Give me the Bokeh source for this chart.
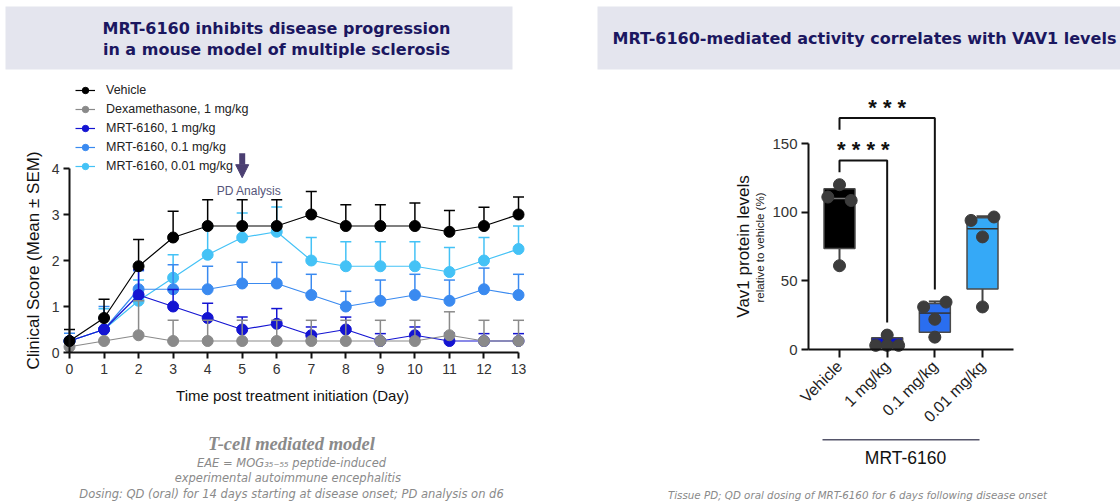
import math
from bokeh.plotting import figure
from bokeh.models import (Label, BoxAnnotation, Legend, LegendItem, FixedTicker,
                          LinearAxis, Range1d, Arrow, NormalHead)
from bokeh.embed import file_html
from bokeh.resources import INLINE

# ---------------- data: left chart (clinical score, mean + SEM) ----------------
days = list(range(14))
series_names = ["Vehicle", "Dexamethasone, 1 mg/kg", "MRT-6160, 1 mg/kg",
                "MRT-6160, 0.1 mg/kg", "MRT-6160, 0.01 mg/kg"]
vehicle_mean = [0.25, 0.75, 1.875, 2.5, 2.75, 2.75, 2.75, 3.0, 2.75, 2.75, 2.75, 2.625, 2.75, 3.0]
vehicle_sem = [0.25, 0.41, 0.58, 0.57, 0.57, 0.57, 0.57, 0.5, 0.46, 0.46, 0.5, 0.46, 0.41, 0.38]
dex_mean = [0.125, 0.25, 0.375, 0.25, 0.25, 0.25, 0.25, 0.25, 0.25, 0.25, 0.25, 0.375, 0.25, 0.25]
dex_sem = [0.0, 0.0, 0.75, 0.45, 0.45, 0.45, 0.45, 0.45, 0.45, 0.45, 0.45, 0.51, 0.45, 0.45]
mrt1_mean = [0.25, 0.5, 1.25, 1.0, 0.75, 0.5, 0.625, 0.375, 0.5, 0.25, 0.375, 0.25, 0.25, 0.25]
mrt1_sem = [0.0, 0.25, 0.55, 0.37, 0.32, 0.27, 0.33, 0.18, 0.27, 0.16, 0.18, 0.17, 0.16, 0.16]
mrt01_mean = [0.25, 0.5, 1.375, 1.375, 1.375, 1.5, 1.5, 1.25, 1.0, 1.125, 1.25, 1.125, 1.375, 1.25]
mrt01_sem = [0.17, 0.5, 0.4, 0.53, 0.5, 0.46, 0.46, 0.45, 0.33, 0.45, 0.45, 0.45, 0.46, 0.45]
mrt001_mean = [0.25, 0.5, 1.125, 1.625, 2.125, 2.5, 2.625, 2.0, 1.875, 1.875, 1.875, 1.75, 2.0, 2.25]
mrt001_sem = [0.0, 0.45, 0.45, 0.5, 0.58, 0.53, 0.54, 0.5, 0.53, 0.53, 0.53, 0.53, 0.5, 0.5]
series_colors = ["#000000", "#8a8a8a", "#1414d2", "#3a8af0", "#44c2f6"]
y_ticks_left = [0, 1, 2, 3, 4]
pd_day = 5

# ---------------- data: right chart (Vav1 protein levels, box plots) ----------------
groups = ["Vehicle", "1 mg/kg", "0.1 mg/kg", "0.01 mg/kg"]
box_min = [61, 1.7, 9, 31]
box_q1 = [73.5, 1.7, 12.5, 44]
box_median = [110, 3.5, 26.5, 88]
box_q3 = [117, 8.5, 33.5, 96]
box_max = [120, 10.5, 35, 97]
group_points = [[120, 111, 108.5, 61], [10.5, 3, 3, 3], [31, 34.5, 22, 9], [94, 96.5, 82, 31]]
point_offsets = [[0, -0.245, 0.245, 0], [0, -0.24, 0, 0.24], [-0.235, 0.235, 0, 0], [-0.24, 0.24, 0, 0]]
box_colors = ["#000000", "#0c12cc", "#2a6ef0", "#35a9f7"]
y_ticks_right = [0, 50, 100, 150]
sig_labels = ["* * * *", "* * *"]
sig_from = [1, 1]
sig_to = [2, 3]
sig_top = [137.6, 168.5]
sig_left_end = [129, 160]
sig_right_end = [19.7, 43.7]

FONT = "Liberation Sans"
TITLE_FONT = "DejaVu Sans"
TITLE_BG = "#e4e5ee"
TITLE_COLOR = "#1b1760"
NOTE_COLOR = "#8a8a8a"

W, H = 1120, 503


def x_span(v0, px0, ppu):
    start = v0 - px0 / ppu
    return Range1d(start, start + W / ppu)


def y_span(v0, py0, ppu):
    return Range1d(v0 - (H - py0) / ppu, v0 + py0 / ppu)


# one canvas, frame = whole page; each chart has its own ranges
p = figure(width=W, height=H, min_border=0,
           x_range=x_span(0, 69, 34.54), y_range=y_span(0, 352, 46.0),
           x_axis_type=None, y_axis_type=None,
           output_backend="svg", toolbar_location=None)
p.extra_x_ranges = {"rx": x_span(1, 839, 47.67)}
p.extra_y_ranges = {"ry": y_span(0, 349, 1.3733)}
p.outline_line_color = None
p.background_fill_color = "white"
p.border_fill_color = "white"
R = dict(x_range_name="rx", y_range_name="ry")


def style_axis(ax, size, tick_out):
    ax.axis_line_color = "#111111"
    ax.axis_line_width = 2
    ax.major_tick_line_color = "#111111"
    ax.major_tick_line_width = 2
    ax.major_tick_out = tick_out
    ax.major_tick_in = 0
    ax.minor_tick_line_color = None
    ax.major_label_text_font = FONT
    ax.major_label_text_font_size = size
    ax.major_label_text_color = "#333333"


def S(px, py):
    return dict(x=px, y=H - py, x_units="screen", y_units="screen")


def text(px, py, t, **kw):
    base = dict(text_align="center", text_baseline="middle")
    base.update(kw)
    return Label(text=t, **S(px, py), **base)


def box(l, r, t, b, **kw):
    return BoxAnnotation(left=l, right=r, top=H - t, bottom=H - b,
                         left_units="screen", right_units="screen",
                         top_units="screen", bottom_units="screen",
                         line_alpha=0, fill_alpha=1, **kw)


# title boxes
p.add_layout(box(5, 512, 6, 69, fill_color=TITLE_BG, level="underlay"))
p.add_layout(box(597, 1120, 6, 69, fill_color=TITLE_BG, level="underlay"))

# ======================= LEFT CHART =======================
lx = LinearAxis(ticker=FixedTicker(ticks=days), bounds=(0, 13), fixed_location=0)
ly = LinearAxis(ticker=FixedTicker(ticks=y_ticks_left), bounds=(0, 4), fixed_location=0)
style_axis(lx, "14px", 6)
style_axis(ly, "14px", 6)
lx.major_label_standoff = 5
ly.major_label_standoff = 4
p.add_layout(lx, "below")
p.add_layout(ly, "left")

means = [vehicle_mean, dex_mean, mrt1_mean, mrt01_mean, mrt001_mean]
sems = [vehicle_sem, dex_sem, mrt1_sem, mrt01_sem, mrt001_sem]
legend_renderers = {}
for i in reversed(range(len(series_names))):
    m, s, c = means[i], sems[i], series_colors[i]
    ex = [d for d, e in zip(days, s) if e > 0]
    ey0 = [v for v, e in zip(m, s) if e > 0]
    ey1 = [v + e for v, e in zip(m, s) if e > 0]
    p.segment(x0=ex, y0=ey0, x1=ex, y1=ey1, line_color=c, line_width=1.5)
    p.scatter(x=ex, y=ey1, marker="dash", size=11, line_color=c, line_width=1.5)
    lr = p.line(days, m, line_color=c, line_width=1.2)
    sr = p.scatter(days, m, size=11, fill_color=c, line_color=c)
    legend_renderers[i] = [lr, sr]

legend = Legend(items=[LegendItem(label=series_names[i], renderers=legend_renderers[i])
                       for i in range(len(series_names))],
                location=(75, H - 174), padding=0, margin=0, spacing=3,
                glyph_width=20, glyph_height=16, label_height=16, label_standoff=11,
                label_text_font=FONT, label_text_font_size="12.5px", label_text_color="#222222",
                background_fill_alpha=0, border_line_alpha=0)
p.add_layout(legend)

p.add_layout(Arrow(x_start=pd_day, y_start=4.33, x_end=pd_day, y_end=3.80,
                   line_width=6, line_color="#4b3f72",
                   end=NormalHead(size=13, fill_color="#4b3f72", line_color="#4b3f72")))
p.add_layout(Label(x=pd_day + 0.2, y=3.51, text="PD Analysis", text_font=FONT,
                   text_font_size="12px", text_color="#55557a",
                   text_align="center", text_baseline="middle"))

p.add_layout(text(276, 28, "MRT-6160 inhibits disease progression",
                  text_font=TITLE_FONT, text_font_style="bold", text_font_size="16px",
                  text_color=TITLE_COLOR))
p.add_layout(text(276, 49, "in a mouse model of multiple sclerosis",
                  text_font=TITLE_FONT, text_font_style="bold", text_font_size="16px",
                  text_color=TITLE_COLOR))
p.add_layout(text(33, 260, "Clinical Score (Mean \u00b1 SEM)", angle=math.pi / 2,
                  text_font=FONT, text_font_size="17px", text_color="#111111"))
p.add_layout(text(292, 395, "Time post treatment initiation (Day)",
                  text_font=FONT, text_font_size="15px", text_color="#111111"))
p.add_layout(text(291, 443, "T-cell mediated model",
                  text_font="Liberation Serif", text_font_style="bold italic",
                  text_font_size="18.5px", text_color=NOTE_COLOR))
p.add_layout(text(291, 462, "EAE = MOG\u2083\u2085\u208b\u2085\u2085 peptide-induced",
                  text_font="DejaVu Sans", text_font_style="italic",
                  text_font_size="11.5px", text_color=NOTE_COLOR))
p.add_layout(text(291, 477, "experimental  autoimmune  encephalitis",
                  text_font="DejaVu Sans", text_font_style="italic",
                  text_font_size="11.5px", text_color=NOTE_COLOR))
p.add_layout(text(291, 493,
                  "Dosing: QD (oral) for 14 days starting at disease onset; PD analysis on d6",
                  text_font="DejaVu Sans", text_font_style="italic",
                  text_font_size="11.5px", text_color=NOTE_COLOR))

# ======================= RIGHT CHART =======================
pos = list(range(1, len(groups) + 1))
rx = LinearAxis(ticker=FixedTicker(ticks=pos),
                major_label_overrides={q: g for q, g in zip(pos, groups)},
                fixed_location=0, bounds=(0.35, 4.65),
                major_label_orientation=math.pi / 4, **R)
ry = LinearAxis(ticker=FixedTicker(ticks=y_ticks_right), bounds=(0, 150),
                fixed_location=0.35, **R)
style_axis(rx, "16px", 8)
style_axis(ry, "15px", 7)
rx.major_label_text_color = "#222222"
rx.major_label_standoff = 6
ry.major_label_standoff = 4
p.add_layout(rx, "below")
p.add_layout(ry, "left")

half = 0.325
p.segment(x0=pos, y0=box_q3, x1=pos, y1=box_max, line_color="#444444", line_width=2, **R)
p.segment(x0=pos, y0=box_min, x1=pos, y1=box_q1, line_color="#444444", line_width=2, **R)
p.scatter(x=pos + pos, y=box_min + box_max, marker="dash", size=12,
          line_color="#444444", line_width=2, **R)
p.vbar(x=pos, width=2 * half, bottom=box_q1, top=box_q3, fill_color=box_colors,
       line_color="#4a4a4a", line_width=1.5, **R)
med_colors = ["#777777" if c == "#000000" else "#333333" for c in box_colors]
p.segment(x0=[q - half for q in pos], y0=box_median, x1=[q + half for q in pos],
          y1=box_median, line_color=med_colors, line_width=1.5, **R)
px_, py_ = [], []
for q, vals, offs in zip(pos, group_points, point_offsets):
    for v, o in zip(vals, offs):
        px_.append(q + o)
        py_.append(v)
p.scatter(px_, py_, size=12, fill_color="#3c3c3c", line_color="#3c3c3c", **R)

p.multi_line(xs=[[a, a, b, b] for a, b in zip(sig_from, sig_to)],
             ys=[[l, t, t, r] for l, t, r in zip(sig_left_end, sig_top, sig_right_end)],
             line_color="#111111", line_width=2, **R)
for a, b, t, txt in zip(sig_from, sig_to, sig_top, sig_labels):
    p.add_layout(Label(x=(a + b) / 2, y=t, y_offset=11, text=txt, text_align="center",
                       text_baseline="alphabetic", text_font=FONT,
                       text_font_style="bold", text_font_size="22px",
                       text_color="#111111", **R))

p.add_layout(text(864, 38, "MRT-6160-mediated activity correlates with VAV1 levels",
                  text_font=TITLE_FONT, text_font_style="bold", text_font_size="16px",
                  text_color=TITLE_COLOR))
p.add_layout(text(743, 246, "Vav1 protein levels", angle=math.pi / 2,
                  text_font=FONT, text_font_size="17px", text_color="#111111"))
p.add_layout(text(759, 247, "relative to vehicle (%)", angle=math.pi / 2,
                  text_font=FONT, text_font_size="11.5px", text_color="#222222"))
p.add_layout(box(822, 979, 438.5, 440, fill_color="#55556a"))
p.add_layout(text(905, 457, "MRT-6160", text_font=FONT,
                  text_font_size="17.5px", text_color="#111111"))
p.add_layout(text(857, 494,
                  "Tissue PD; QD oral dosing of MRT-6160 for 6 days following disease onset",
                  text_font="DejaVu Sans", text_font_style="italic",
                  text_font_size="10.3px", text_color=NOTE_COLOR))

open("out.html", "w").write(file_html(p, INLINE))
